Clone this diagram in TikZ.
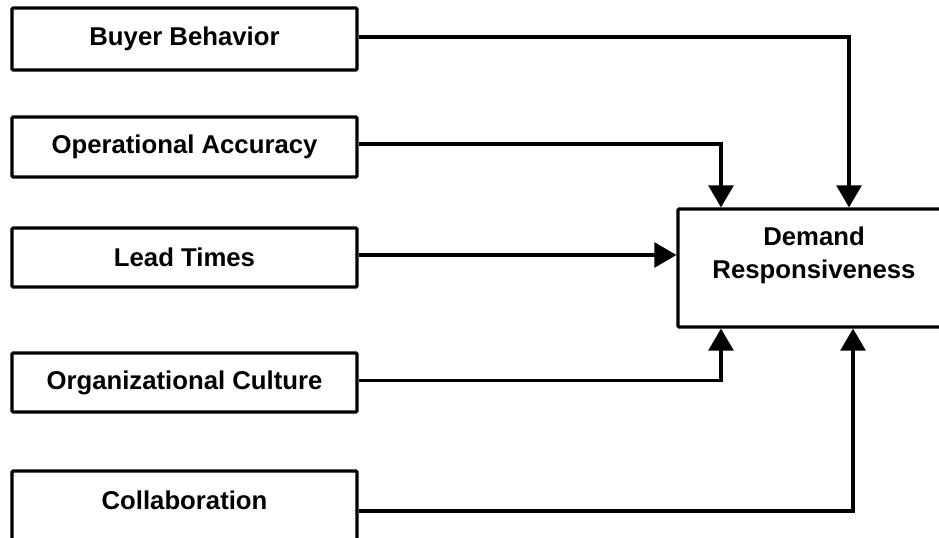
\documentclass[tikz,border=0pt]{standalone}
\usepackage{fontspec}
\setmainfont{Liberation Sans}
\usetikzlibrary{arrows.meta}

\tikzset{
  factor/.style={draw, line width=0.08cm, fill=white, rounded corners=0.03cm,
    minimum width=8.625cm, minimum height=1.5cm, inner sep=0pt},
  link/.style={line width=0.08cm, -{Triangle[length=0.55cm,width=0.62cm]}},
}

\begin{document}
\begin{tikzpicture}
                \useasboundingbox (0,0) rectangle (23.475000,13.425000);
                \clip (0,0) rectangle (23.475000,13.425000);
                {\fontsize{18.3}{23.4}\selectfont\bfseries

                % Marking box Buyer Behavior
                \node [factor, minimum height=1.550000cm] (buyer) at (4.612500,12.450000) {Buyer Behavior};%

                % Marking box Operational Accuracy
                \node [factor] (opacc) at (4.612500,9.750000) {Operational Accuracy};%

                % Marking box Lead Times
                \node [factor, minimum height=1.475000cm] (lead) at (4.612500,6.987500) {Lead Times};%

                % Marking box Organizational Culture
                \node [factor, minimum height=1.475000cm] (orgcult) at (4.612500,3.862500) {Organizational Culture};%

                % Marking box Collaboration (runs off the bottom)
                \node [factor, minimum height=2.000000cm, text height=0.5cm, text depth=0.59cm] (collab) at (4.612500,0.650000) {Collaboration};%

                % Marking box Demand Responsiveness (runs off the right)
                \node [factor, minimum width=6.800000cm, minimum height=2.950000cm, align=center,
                       text height=1.3cm, text depth=0.79cm] (demand) at (20.350000,6.725000) {Demand\\Responsiveness};%

                % Drawing connector buyer demand
                \draw [link] ([yshift=0.050000cm]buyer.east) -| ([xshift=0.875000cm]demand.north);%

                % Drawing connector opacc demand
                \draw [link] ([yshift=0.075000cm]opacc.east) -| ([xshift=-2.325000cm]demand.north);%

                % Drawing connector lead demand
                \draw [link] ([yshift=0.062500cm]lead.east) -- ([yshift=0.062500cm]lead.east -| demand.west);%

                % Drawing connector orgcult demand
                \draw [link] ([yshift=0.040000cm]orgcult.east) -| ([xshift=-2.325000cm]demand.south);%

                % Drawing connector collab demand
                \draw [link] (collab.east) -| ([xshift=0.975000cm]demand.south);%
                }
            \end{tikzpicture}
\end{document}
